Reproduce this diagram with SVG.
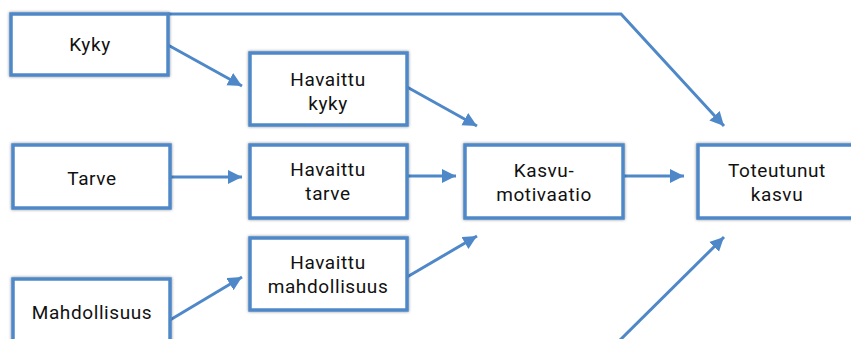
<svg xmlns="http://www.w3.org/2000/svg" width="851" height="339" viewBox="0 0 851 339">
<defs>
<style>
.box{fill:#fff;stroke:#4f88c8;stroke-width:3.5;filter:url(#sh)}
.t{font-family:Roboto,"Liberation Sans",sans-serif;font-size:19px;letter-spacing:0.6px;fill:#111;text-anchor:middle}
.c{fill:none;stroke:#4f88c8;stroke-width:3;marker-end:url(#ah)}
</style>
<filter id="sh" x="-10%" y="-20%" width="120%" height="140%">
<feDropShadow dx="0" dy="0" stdDeviation="1.5" flood-color="#000" flood-opacity="0.45"/>
</filter>
<marker id="ah" markerUnits="userSpaceOnUse" markerWidth="16" markerHeight="16" refX="14" refY="7" orient="auto">
<path d="M0,0 L14,7 L0,14 z" fill="#4f88c8"/>
</marker>
</defs>
<g id="connectors">
<path class="c" d="M168,14 L621,14 L724,126"/>
<path class="c" d="M168,45 L242,86"/>
<path class="c" d="M407,87 L477,126"/>
<path class="c" d="M170,177 L242,177"/>
<path class="c" d="M407,176 L456,176"/>
<path class="c" d="M170,320 L242,277"/>
<path class="c" d="M407,277 L477,236"/>
<path class="c" d="M623,176 L684,176"/>
<path class="c" d="M610,350 L724,237"/>
</g>
<g id="kyky"><rect class="box" x="11" y="14" width="157" height="61"/><text class="t" x="90" y="51">Kyky</text></g>
<g id="tarve"><rect class="box" x="13" y="145" width="157" height="63"/><text class="t" x="92" y="185">Tarve</text></g>
<g id="mahdollisuus"><rect class="box" x="13" y="279" width="157" height="80"/><text class="t" x="92" y="319">Mahdollisuus</text></g>
<g id="havaittu-kyky"><rect class="box" x="250" y="53" width="157" height="72"/><text class="t" x="328" y="86">Havaittu</text><text class="t" x="328" y="110">kyky</text></g>
<g id="havaittu-tarve"><rect class="box" x="250" y="145" width="157" height="73"/><text class="t" x="328" y="176">Havaittu</text><text class="t" x="328" y="200">tarve</text></g>
<g id="havaittu-mahdollisuus"><rect class="box" x="250" y="238" width="157" height="72"/><text class="t" x="328" y="269">Havaittu</text><text class="t" x="328" y="293">mahdollisuus</text></g>
<g id="kasvumotivaatio"><rect class="box" x="465" y="145" width="158" height="73"/><text class="t" x="544" y="177">Kasvu-</text><text class="t" x="544" y="201">motivaatio</text></g>
<g id="toteutunut-kasvu"><rect class="box" x="698" y="145" width="158" height="73"/><text class="t" x="777" y="177">Toteutunut</text><text class="t" x="777" y="201">kasvu</text></g>
</svg>
